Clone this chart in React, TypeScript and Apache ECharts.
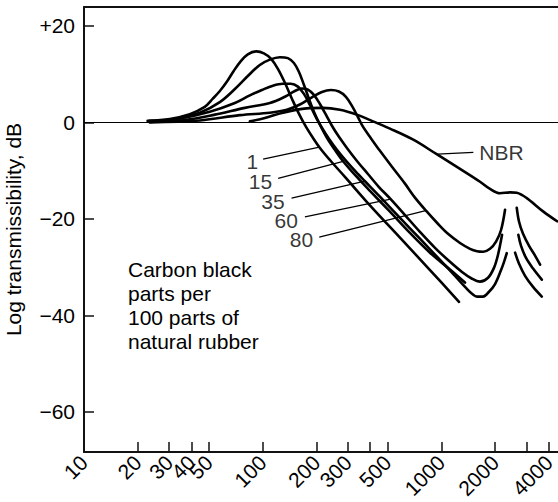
import React, { useEffect, useRef } from 'react';
import * as echarts from 'echarts';

const FONT = '"Liberation Sans", Arial, Helvetica, sans-serif';

// x axis (frequency, log) ticks and labels
const xTickValues = [20, 30, 40, 50, 100, 200, 300, 400, 500, 1000, 2000, 3000, 4000];
const xLabelValues = [10, 20, 30, 40, 50, 100, 200, 300, 500, 1000, 2000, 4000];
const yTickValues = [-60, -40, -20, 0, 20];

// Natural rubber curves, carbon black parts per 100 parts of rubber
const curve1 = [[22.7,0.3],[30.2,0.7],[39.1,1.7],[47.4,3.2],[52.6,4.9],[57.6,6.5],[63.0,8.4],[69.0,10.7],[75.5,12.7],[82.6,14.1],[92.2,14.7],[101.6,14.3],[111.2,13.2],[121.7,11.1],[133.2,8.2],[145.8,4.9],[159.5,1.8],[174.6,-0.9],[191.1,-3.2],[209.2,-5.3],[238.0,-7.8],[288.8,-11.3],[398.6,-17.2],[587.1,-23.9],[864.4,-30.6],[1256,-37.2]];
const curve15 = [[23.3,0.3],[32.2,0.6],[44.5,2.0],[57.6,4.2],[69.9,6.9],[82.6,9.6],[96.4,11.9],[109.7,13.0],[124.9,13.5],[138.4,13.3],[149.6,12.3],[159.5,10.5],[170.2,7.8],[181.5,4.9],[193.6,2.2],[209.2,-0.5],[228.9,-3.2],[253.8,-5.7],[281.4,-8.0],[328.7,-10.9],[398.6,-14.2],[515.9,-18.5],[667.7,-22.9],[864.4,-27.0],[1118.6,-30.5],[1357,-33.2]];
const curve35a = [[23.3,0.2],[34.4,0.8],[50.6,2.2],[69.9,4.0],[84.8,5.6],[99.0,6.7],[114.1,7.6],[129.8,8.0],[143.9,8.0],[157.5,7.4],[170.2,5.9],[183.9,3.6],[198.6,1.1],[214.6,-1.1],[234.9,-3.4],[260.5,-5.7],[296.3,-8.2],[341.5,-10.7],[373.7,-12.2],[453.5,-15.4],[587.1,-19.8],[759.4,-24.1],[983.4,-28.5],[1193,-31.8],[1375,-34.3],[1486,-35.5],[1585,-36.1],[1712,-36.1],[1850,-35.1],[1999,-33.5],[2160,-30.6],[2245,-28.9],[2325,-27.1]];
const curve35b = [[2588,-27.0],[2724,-29.3],[2943,-31.8],[3263,-34.1],[3652,-36.1]];
const curve60a = [[23.3,0.1],[36.7,0.5],[54.0,1.6],[79.5,3.0],[109.7,4.0],[133.2,5.3],[151.5,6.5],[165.8,7.0],[179.2,6.8],[193.6,5.7],[209.2,3.8],[226.0,1.6],[244.2,-0.7],[267.3,-3.0],[296.3,-5.3],[337.3,-8.0],[388.4,-10.7],[447.7,-13.4],[520.6,-15.9],[626.1,-19.2],[759.4,-22.7],[921.9,-26.0],[1118.6,-28.9],[1305.8,-31.0],[1486,-32.4],[1647,-33.0],[1826.5,-32.2],[1974,-30.1],[2078,-27.4],[2188,-23.3]];
const curve60b = [[2699,-23.3],[2795,-25.6],[2981,-28.1],[3263,-30.3],[3652,-32.6]];
const curve80a = [[23.3,0.0],[44.5,0.4],[74.5,1.5],[109.7,2.0],[136.7,2.6],[161.6,3.7],[188.7,5.2],[214.6,6.3],[241.1,6.7],[267.3,6.4],[292.5,5.3],[316.2,3.4],[341.5,1.1],[364.2,-0.9],[398.6,-3.0],[453.5,-5.9],[529.4,-9.2],[626.1,-12.7],[712.1,-15.6],[821.0,-18.3],[946.0,-20.8],[1090,-23.1],[1272.6,-25.0],[1448,-26.2],[1585,-26.7],[1719,-26.8],[1874,-26.2],[2025,-24.7],[2160,-22.3],[2274,-18.1]];
const curve80b = [[2644,-17.7],[2724,-20.6],[2868,-23.1],[3099,-25.6],[3348,-27.6],[3573,-29.5]];
const curveNBR = [[84.8,0.2],[102.9,0.9],[129.8,2.0],[176.2,2.9],[217.4,3.0],[270.7,2.6],[336.0,1.6],[414.3,0.2],[515.9,-1.3],[696.7,-3.6],[942.4,-6.6],[1387.5,-10.5],[1647,-12.3],[1874,-13.8],[2132,-14.7],[2426,-14.5],[2644,-14.6],[3008,-15.7],[3728,-18.5],[4448,-20.5]];

// leader lines for curve labels
const leaderNames = ['1', '15', '35', '60', '80', 'NBR'];
const leader1 = [[100.6,-7.6],[204.6,-5.2]];
const leader15 = [[122.1,-11.6],[282.5,-8.1]];
const leader35 = [[145.2,-15.7],[373.7,-12.2]];
const leader60 = [[172.4,-19.6],[520.7,-15.9]];
const leader80 = [[207.3,-23.8],[817.8,-18.3]];
const leaderNBR = [[949.7,-6.6],[1511,-6.2]];

const noteLines = ['Carbon black', 'parts per', '100 parts of', 'natural rubber'];
const yAxisTitle = 'Log transmissibility, dB';

export default function App() {
  const ref = useRef<HTMLDivElement>(null);
  useEffect(() => {
    if (!ref.current) return;
    const chart = echarts.init(ref.current, null, { renderer: 'svg' });
    const axisColor = '#111';
    const curve = (data: number[][]) => ({
      type: 'line', data, symbol: 'none', showSymbol: false, smooth: 0.35,
      lineStyle: { color: '#000', width: 2.6, cap: 'round', join: 'round' }, silent: true, z: 3,
    });
    const leader = (data: number[][]) => ({
      type: 'line', data, symbol: 'none', showSymbol: false,
      lineStyle: { color: '#000', width: 1.3 }, silent: true, z: 3,
    });
    const leaders = [leader1, leader15, leader35, leader60, leader80, leaderNBR];
    const labelDist = [5, 6, 7, 7, 6, 6];
    const labelDy = [2, 3, 3, 4, 2, 0];
    const option: any = {
      animation: false,
      grid: { left: 84, right: 0, top: 7, bottom: 50, containLabel: false, outerBoundsMode: 'none' },
      xAxis: [
        {
          type: 'log', logBase: 10, min: 10, max: 4500,
          axisLine: { show: true, onZero: false, lineStyle: { color: axisColor, width: 2 } },
          axisTick: { show: true, inside: true, length: 10, customValues: xTickValues, lineStyle: { color: axisColor, width: 1.5 } },
          minorTick: { show: false },
          axisLabel: {
            show: true, customValues: xLabelValues, rotate: 45, margin: 7,
            fontSize: 21, color: '#000', fontFamily: FONT,
            formatter: (v: number) => String(Math.round(v)),
          },
          splitLine: { show: false },
        },
        {
          type: 'value', position: 'top', min: 0, max: 1,
          axisLine: { show: true, onZero: false, lineStyle: { color: axisColor, width: 2 } },
          axisTick: { show: false }, axisLabel: { show: false }, splitLine: { show: false },
        },
      ],
      yAxis: {
        type: 'value', min: -68.3, max: 23.9,
        axisLine: { show: true, onZero: false, lineStyle: { color: axisColor, width: 2 } },
        axisTick: { show: true, inside: true, length: 10, customValues: yTickValues, lineStyle: { color: axisColor, width: 1.5 } },
        axisLabel: {
          customValues: yTickValues, margin: 9, fontSize: 21, color: '#000', fontFamily: FONT,
          formatter: (v: number) => (v > 0 ? '+' + v : v < 0 ? '\u2212' + -v : '0'),
        },
        splitLine: { show: false },
        name: yAxisTitle, nameLocation: 'middle', nameGap: 60,
        nameTextStyle: { fontSize: 21, color: '#000', fontFamily: FONT },
      },
      graphic: [
        {
          type: 'text', left: 128, top: 257, silent: true,
          style: { text: noteLines.join('\n'), fontSize: 21, fontFamily: FONT, lineHeight: 24, fill: '#000' },
        },
      ],
      series: [
        {
          ...curve(curve1),
          markLine: {
            silent: true, symbol: 'none', label: { show: false },
            lineStyle: { color: '#000', width: 1.2, type: 'solid' },
            data: [{ yAxis: 0 }],
          },
        },
        curve(curve15),
        curve(curve35a), curve(curve35b),
        curve(curve60a), curve(curve60b),
        curve(curve80a), curve(curve80b),
        curve(curveNBR),
        ...leaders.map((l) => leader(l)),
        {
          type: 'scatter', symbolSize: 0, silent: true, z: 4,
          data: leaders.map((l, i) => ({
            name: leaderNames[i],
            value: i === 5 ? l[1] : l[0],
            label: {
              show: true, position: i === 5 ? 'right' : 'left', distance: labelDist[i], offset: [0, labelDy[i]],
              formatter: '{b}', fontSize: 21, lineHeight: 18, color: '#000', fontFamily: FONT,
            },
          })),
        },
      ],
    };
    chart.setOption(option);
    return () => chart.dispose();
  }, []);
  return <div ref={ref} style={{ position: 'absolute', left: 0, top: 0, width: 558, height: 502 }} />;
}
